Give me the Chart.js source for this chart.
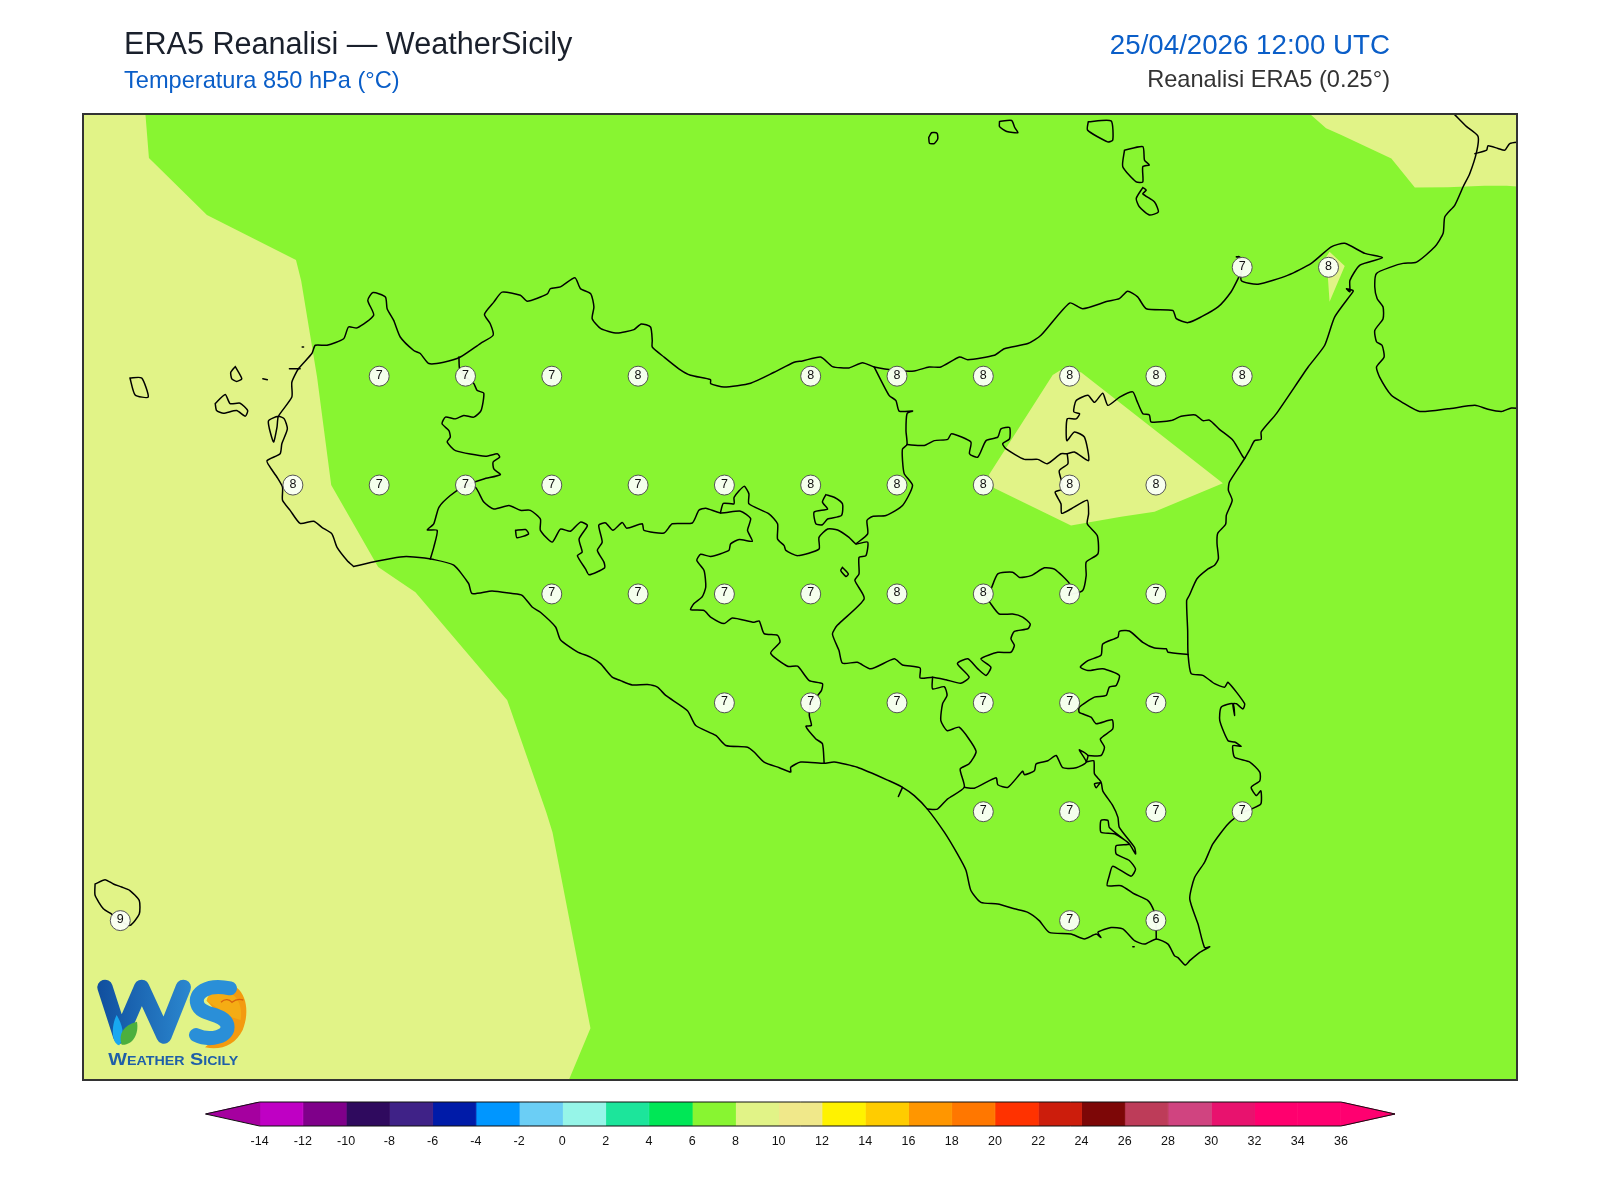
<!DOCTYPE html>
<html lang="it">
<head>
<meta charset="utf-8">
<title>ERA5 Reanalisi — WeatherSicily</title>
<script src="https://cdn.jsdelivr.net/npm/chart.js@4/dist/chart.umd.min.js"></script>
<style>
    html, body { margin: 0; padding: 0; background: #fff; }
    body { position: relative; width: 1600px; height: 1200px; overflow: hidden; font-family: "Liberation Sans", Arial, sans-serif; }
    canvas { position: absolute; left: 0; }
    .testo { position: absolute; white-space: nowrap; line-height: 1.149; }
    #titolo { left: 124px; top: 26px; font-size: 30.6px; color: #1a202c; }
    #sottotitolo { left: 124px; top: 67px; font-size: 23.6px; color: #0a5ec8; }
    #data { right: 210px; top: 29px; font-size: 27.7px; color: #0a5ec8; }
    #fonte { right: 210px; top: 66px; font-size: 23.6px; color: #333; }
    #logo { position: absolute; left: 90px; top: 970px; }
</style>
</head>
<body>
<canvas id="mappa" width="1600" height="1200" style="top:0"></canvas>
<canvas id="barra" width="1600" height="70" style="top:1090px"></canvas>
<div class="testo" id="titolo">ERA5 Reanalisi — WeatherSicily</div>
<div class="testo" id="sottotitolo">Temperatura 850 hPa (°C)</div>
<div class="testo" id="data">25/04/2026 12:00 UTC</div>
<div class="testo" id="fonte">Reanalisi ERA5 (0.25°)</div>
<svg id="logo" width="170" height="105" viewBox="0 0 510 315">
    <defs>
        <linearGradient id="gradW" gradientUnits="userSpaceOnUse" x1="30" y1="0" x2="300" y2="0">
            <stop offset="0" stop-color="#11509f"/>
            <stop offset="1" stop-color="#2b87cf"/>
        </linearGradient>
    </defs>
    <path d="M415,42 C468,50 482,125 458,180 C436,226 392,242 345,232 L420,170 L350,92 C362,62 400,62 415,42 Z" fill="#f39a10"/>
    <path d="M380,62 C430,55 460,95 452,150 L420,140 L350,92 C352,78 362,66 380,62 Z" fill="#f5ac14"/>
    <polyline points="45,52 92,198 155,52 222,198 280,52" fill="none" stroke="url(#gradW)" stroke-width="46" stroke-linejoin="round" stroke-linecap="round"/>
    <path d="M420,55 C350,40 312,70 322,102 C332,140 400,125 412,165 C420,200 360,215 318,195" fill="none" stroke="#2a8fd8" stroke-width="42" stroke-linecap="round"/>
    <path d="M80,135 C97,165 107,195 88,226 C65,222 62,170 80,135 Z" fill="#18a8f0"/>
    <path d="M141,155 C100,165 84,192 95,224 C130,226 147,190 141,155 Z" fill="#4caf3e"/>
    <path d="M393,97 C405,85 418,88 426,97 C436,88 448,86 460,90" fill="none" stroke="#d9620c" stroke-width="4"/>
    <text x="55" y="285" font-family="Liberation Sans" font-weight="bold" font-size="50" fill="#1f5fa8" style="font-variant:small-caps" textLength="390" lengthAdjust="spacingAndGlyphs">Weather Sicily</text>
</svg>
<script>
// griglia ERA5 0.25 gradi: valori
const gridLon = [15.25, 15.5,
    12.75, 13, 13.25, 13.5, 14, 14.25, 14.5, 14.75, 15, 15.25,
    12.5, 12.75, 13, 13.25, 13.5, 13.75, 14, 14.25, 14.5, 14.75, 15,
    13.25, 13.5, 13.75, 14, 14.25, 14.5, 14.75, 15,
    13.75, 14, 14.25, 14.5, 14.75, 15,
    14.5, 14.75, 15, 15.25,
    12, 14.75, 15];
const gridLat = [38.25, 38.25,
    38, 38, 38, 38, 38, 38, 38, 38, 38, 38,
    37.75, 37.75, 37.75, 37.75, 37.75, 37.75, 37.75, 37.75, 37.75, 37.75, 37.75,
    37.5, 37.5, 37.5, 37.5, 37.5, 37.5, 37.5, 37.5,
    37.25, 37.25, 37.25, 37.25, 37.25, 37.25,
    37, 37, 37, 37,
    36.75, 36.75, 36.75];
const gridTemp = [7, 8,
    7, 7, 7, 8, 8, 8, 8, 8, 8, 8,
    8, 7, 7, 7, 7, 7, 8, 8, 8, 8, 8,
    7, 7, 7, 7, 8, 8, 7, 7,
    7, 7, 7, 7, 7, 7,
    7, 7, 7, 7,
    9, 7, 6];

// aree 8-10 gradi
const bandWest = [[12.072,38.61],[12.083,38.501],[12.251,38.370],[12.509,38.267],[12.524,38.219],[12.570,37.998],[12.611,37.750],[12.747,37.562],[12.855,37.504],[13.121,37.256],[13.234,36.999],[13.252,36.953],[13.362,36.503],[13.292,36.37],[11.88,36.37],[11.88,38.61]];
const bandEtna = [[14.516,37.773],[14.701,38.003],[14.722,38.013],[14.783,38.009],[15.194,37.754],[14.996,37.689],[14.899,37.677],[14.754,37.657],[14.531,37.743]];
const bandCalabria = [[15.435,38.61],[15.493,38.569],[15.537,38.554],[15.682,38.500],[15.750,38.433],[15.846,38.434],[15.952,38.437],[16.016,38.437],[16.06,38.435],[16.06,38.61]];
const bandStrait = [[15.503,38.286],[15.547,38.253],[15.503,38.171],[15.498,38.229],[15.476,38.253]];

// costa della Sicilia
const coastSicily = [[12.676,37.563],[12.657,37.577],[12.628,37.607],[12.613,37.638],[12.584,37.653],[12.560,37.667],[12.521,37.662],[12.492,37.692],[12.470,37.715],[12.470,37.745],[12.454,37.768],[12.434,37.791],[12.425,37.806],[12.463,37.822],[12.468,37.845],[12.484,37.879],[12.475,37.902],[12.458,37.908],[12.429,37.897],[12.444,37.849],[12.454,37.883],[12.458,37.908],[12.497,37.952],[12.497,37.986],[12.516,38.017],[12.555,38.052],[12.565,38.071],[12.599,38.071],[12.647,38.086],[12.661,38.113],[12.686,38.111],[12.734,38.140],[12.717,38.174],[12.732,38.192],[12.768,38.182],[12.773,38.155],[12.792,38.128],[12.811,38.090],[12.850,38.059],[12.869,38.052],[12.894,38.029],[12.937,38.032],[12.985,38.044],[13.043,38.075],[13.080,38.094],[13.072,38.120],[13.055,38.142],[13.082,38.170],[13.106,38.193],[13.159,38.186],[13.179,38.172],[13.237,38.189],[13.246,38.201],[13.275,38.205],[13.317,38.226],[13.333,38.201],[13.363,38.189],[13.372,38.159],[13.367,38.132],[13.392,38.109],
    [13.439,38.099],[13.488,38.107],[13.509,38.120],[13.536,38.113],[13.541,38.082],[13.541,38.067],[13.575,38.044],[13.618,38.017],[13.652,38.002],[13.710,37.992],[13.710,37.983],[13.749,37.975],[13.826,37.984],[13.894,38.009],[13.952,38.032],[13.976,38.035],[14.029,38.044],[14.063,38.022],[14.111,38.019],[14.150,38.031],[14.184,38.021],[14.252,38.013],[14.300,38.012],[14.343,38.021],[14.377,38.021],[14.431,38.044],[14.455,38.038],[14.532,38.048],[14.561,38.063],[14.629,38.075],[14.667,38.094],[14.750,38.168],
    [14.788,38.155],[14.860,38.172],[14.894,38.178],[14.918,38.195],[14.947,38.182],[14.972,38.155],[15.049,38.151],[15.059,38.132],[15.093,38.123],[15.131,38.136],[15.180,38.159],[15.218,38.194],[15.238,38.224],[15.252,38.249],[15.242,38.274],[15.233,38.274],[15.252,38.270],[15.247,38.220],[15.296,38.211],[15.383,38.232],[15.450,38.259],[15.508,38.297],[15.547,38.305],[15.605,38.282],[15.656,38.272],[15.591,38.255],[15.562,38.220],[15.562,38.194],[15.552,38.201],[15.571,38.197],[15.571,38.194],[15.518,38.136],[15.489,38.071],[15.441,38.021],[15.349,37.914],
    [15.305,37.872],[15.305,37.855],[15.286,37.852],[15.271,37.830],[15.257,37.811],[15.213,37.757],[15.210,37.738],[15.221,37.715],[15.204,37.681],[15.202,37.660],[15.179,37.639],[15.177,37.616],[15.181,37.581],[15.170,37.566],[15.152,37.558],[15.119,37.535],[15.097,37.497],[15.089,37.485],[15.092,37.416],
    [15.093,37.363],[15.102,37.317],[15.136,37.313],[15.170,37.294],[15.199,37.286],[15.209,37.297],[15.257,37.248],[15.252,37.236],[15.233,37.248],[15.223,37.248],[15.228,37.221],[15.223,37.248],[15.189,37.240],[15.185,37.209],[15.209,37.163],[15.228,37.160],[15.247,37.150],[15.223,37.152],[15.228,37.125],[15.272,37.114],[15.301,37.091],[15.301,37.071],[15.276,37.056],[15.291,37.037],[15.304,37.048],[15.304,37.018],[15.276,37.006],[15.253,36.999],[15.209,36.972],[15.165,36.926],[15.141,36.884],[15.112,36.849],[15.098,36.800],[15.122,36.742],[15.141,36.688],[15.156,36.690],[15.127,36.677],[15.098,36.658],[15.085,36.648],[15.064,36.665],[15.054,36.669],[15.035,36.696],[15.001,36.708],[14.967,36.696],[14.938,36.704],[14.904,36.731],[14.870,36.734],[14.832,36.723],[14.841,36.711],[14.827,36.719],[14.793,36.708],[14.754,36.719],[14.691,36.723],[14.662,36.750],[14.629,36.769],[14.590,36.777],[14.542,36.788],[14.493,36.792],[14.464,36.819],[14.450,36.865],[14.425,36.903],[14.387,36.953],[14.338,37.006],[14.300,37.037],[14.266,37.056],[14.227,37.071],[14.135,37.102],[14.068,37.114],[14.039,37.111],[13.971,37.114],
    [13.942,37.102],[13.942,37.091],[13.909,37.101],[13.865,37.114],[13.836,37.137],[13.817,37.148],[13.754,37.152],[13.725,37.175],[13.667,37.198],[13.643,37.232],[13.580,37.267],[13.556,37.286],[13.527,37.292],[13.483,37.291],[13.449,37.301],[13.425,37.309],[13.391,37.340],[13.362,37.355],[13.324,37.367],[13.275,37.395],[13.261,37.424],[13.217,37.458],[13.193,37.470],[13.164,37.497],[13.135,37.501],[13.077,37.507],[13.019,37.501],[13.009,37.524],[12.966,37.566],[12.908,37.579],[12.850,37.585],[12.811,37.585],[12.742,37.575],[12.676,37.563]];

// confini provinciali
const borderTrapani = [[12.981,38.044],[12.983,38.017],[13.000,37.999],[13.024,37.983],[13.034,37.967],[13.053,37.961],[13.045,37.921],[13.024,37.906],[12.995,37.910],[12.971,37.902],[12.942,37.906],[12.932,37.891],[12.952,37.875],[12.956,37.860],[12.947,37.849],[12.971,37.829],[13.058,37.816],[13.092,37.822],[13.099,37.814],[13.080,37.803],[13.082,37.787],[13.101,37.774],[13.053,37.764],[13.000,37.749],[12.956,37.726],[12.923,37.699],[12.908,37.661],[12.889,37.647],[12.918,37.646],[12.908,37.607],[12.898,37.580]];
const borderAgrigento = [[13.000,37.749],[13.029,37.745],[13.053,37.711],[13.082,37.695],[13.126,37.703],[13.159,37.692],[13.188,37.692],[13.217,37.672],[13.217,37.646],[13.251,37.619],[13.275,37.649],[13.304,37.644],[13.333,37.665],[13.353,37.657],[13.329,37.626],[13.338,37.596],[13.324,37.588],[13.348,37.557],[13.358,37.544],[13.403,37.560],[13.401,37.573],[13.382,37.600],[13.396,37.619],[13.386,37.658],[13.406,37.663],[13.427,37.646],[13.454,37.664],[13.467,37.651],[13.512,37.661],[13.517,37.646],[13.575,37.640],[13.599,37.661],[13.657,37.663],[13.676,37.692],[13.696,37.697],[13.739,37.686],[13.797,37.690],[13.826,37.673],[13.817,37.646],[13.831,37.621],[13.793,37.625],[13.768,37.615],[13.763,37.600],[13.710,37.586],[13.681,37.591],[13.670,37.577],[13.691,37.554],[13.696,37.516],[13.686,37.494],[13.662,37.478],[13.652,37.464],[13.691,37.462],[13.710,37.447],[13.749,37.432],[13.773,37.445],[13.836,37.435],[13.851,37.438],[13.865,37.409],[13.904,37.405],[13.911,37.389],[13.884,37.364],[13.933,37.334],[13.962,37.334],[13.996,37.301],[14.034,37.294],[14.031,37.278],[14.020,37.267],[14.000,37.249],[13.996,37.221],[14.002,37.198],[13.986,37.196],[14.015,37.167],[14.034,37.156],[14.039,37.111]];
const borderEnna = [[13.739,37.686],[13.739,37.688],[13.747,37.708],[13.778,37.707],[13.778,37.722],[13.807,37.747],[13.821,37.730],[13.821,37.707],[13.879,37.684],[13.904,37.661],[13.904,37.626],[13.923,37.611],[13.928,37.600],[13.962,37.588],[14.024,37.603],[14.024,37.630],[14.049,37.649],[14.078,37.647],[14.111,37.630],[14.131,37.615],[14.165,37.619],[14.160,37.588],[14.140,37.584],[14.140,37.546],[14.128,37.531],[14.155,37.489],[14.077,37.428],[14.063,37.408],[14.082,37.370],[14.092,37.341],[14.135,37.343],[14.174,37.328],[14.242,37.351],[14.266,37.337],[14.317,37.330],[14.317,37.307],[14.353,37.309],[14.392,37.303],[14.435,37.295],[14.459,37.309],[14.425,37.340],[14.455,37.351],[14.484,37.328],[14.508,37.313],[14.522,37.332],[14.493,37.351],[14.542,37.366],[14.580,37.366],[14.590,37.382],[14.580,37.397],[14.590,37.414],[14.629,37.420],[14.636,37.431],[14.614,37.447],[14.585,37.454],[14.546,37.454],[14.522,37.477],[14.503,37.500]];
const borderCatania = [[14.503,37.500],[14.518,37.504],[14.542,37.546],[14.585,37.550],[14.605,37.538],[14.638,37.542],[14.677,37.560],[14.706,37.557],[14.750,37.523],[14.75,37.5],[14.788,37.508],[14.798,37.542],[14.798,37.573],[14.832,37.592],[14.830,37.634],[14.801,37.661],[14.805,37.684],[14.801,37.715],[14.754,37.695],[14.727,37.685],[14.725,37.707],[14.708,37.734],[14.730,37.741],[14.725,37.764],[14.720,37.783],[14.745,37.799],[14.743,37.822]];
const borderMadonie = [[14.131,37.615],[14.165,37.638],[14.163,37.669],[14.179,37.678],[14.218,37.680],[14.266,37.703],[14.295,37.749],[14.271,37.776],[14.266,37.806],[14.266,37.833],[14.279,37.843],[14.276,37.875],[14.279,37.914],[14.295,37.920],[14.256,37.920],[14.247,37.944],[14.227,37.956],[14.184,38.021]];
const borderMessina = [[14.279,37.843],[14.329,37.841],[14.358,37.852],[14.397,37.855],[14.408,37.868],[14.464,37.849],[14.460,37.822],[14.484,37.814],[14.508,37.852],[14.542,37.860],[14.551,37.879],[14.576,37.882],[14.576,37.856],[14.556,37.845],[14.566,37.833],[14.619,37.809],[14.658,37.809],[14.685,37.799],[14.725,37.822],[14.743,37.822],[14.764,37.826],[14.805,37.806],[14.793,37.860],[14.764,37.872],[14.742,37.852],[14.743,37.902],[14.769,37.902],[14.779,37.914],[14.762,37.918],[14.769,37.944],[14.803,37.956],[14.822,37.940],[14.846,37.961],[14.861,37.933],[14.895,37.952],[14.933,37.964],[14.944,37.945],[14.962,37.914],[14.981,37.911],[14.986,37.895],[15.044,37.898],[15.073,37.908],[15.114,37.911],[15.136,37.898],[15.155,37.899],[15.184,37.878],[15.223,37.853],[15.252,37.815],[15.257,37.811]];
const borderCaltanissetta = [[14.353,37.309],[14.353,37.282],[14.387,37.287],[14.395,37.267],[14.382,37.248],[14.377,37.209],[14.396,37.186],[14.430,37.194],[14.479,37.139],[14.459,37.110],[14.433,37.098],[14.445,37.056],[14.396,37.029],[14.367,37.006],[14.338,37.006]];
const borderRagusa = [[14.445,37.056],[14.474,37.054],[14.537,37.078],[14.542,37.062],[14.571,37.056],[14.614,37.093],[14.619,37.085],[14.648,37.094],[14.653,37.110],[14.687,37.117],[14.711,37.129],[14.730,37.101],[14.769,37.101],[14.798,37.114],[14.778,37.142],[14.803,37.129],[14.798,37.114]];
const borderSiracusa = [[14.803,37.129],[14.841,37.129],[14.851,37.148],[14.839,37.167],[14.875,37.190],[14.873,37.211],[14.827,37.202],[14.812,37.217],[14.778,37.228],[14.778,37.240],[14.822,37.263],[14.856,37.267],[14.865,37.286],[14.885,37.290],[14.894,37.313],[14.846,37.328],[14.803,37.324],[14.781,37.332],[14.803,37.347],[14.841,37.359],[14.846,37.385],[14.890,37.401],[14.894,37.414],[14.923,37.415],[14.962,37.389],[14.996,37.376],[15.030,37.374],[15.035,37.366],[15.093,37.361]];
const borderIblei = [[14.798,37.114],[14.820,37.117],[14.822,37.087],[14.841,37.068],[14.822,37.064],[14.827,37.055],[14.841,37.068],[14.846,37.048],[14.875,37.014],[14.890,36.987],[14.894,36.964],[14.938,36.918],[14.941,36.903],[14.923,36.926],[14.865,36.964],[14.861,36.980],[14.841,36.980],[14.841,36.953],[14.880,36.949],[14.923,36.926],[14.885,36.922],[14.885,36.903],[14.923,36.888],[14.941,36.868],[14.928,36.852],[14.875,36.875],[14.865,36.853],[14.859,36.830],[14.899,36.830],[14.938,36.811],[14.977,36.796],[14.994,36.773],[15.0,36.75],[15.001,36.708]];
const tickGela = [[14.266,37.056],[14.254,37.035]];
const enclaveNebrodi = [[14.044,37.728],[14.068,37.722],[14.092,37.707],[14.089,37.680],[14.049,37.672],[14.034,37.659],[14.015,37.661],[14.010,37.688],[14.049,37.695],[14.034,37.711],[14.044,37.728]];
const lakeArancio = [[13.145,37.646],[13.174,37.648],[13.183,37.638],[13.149,37.629],[13.145,37.646]];
const lakePozzillo = [[14.092,37.561],[14.109,37.546],[14.102,37.540],[14.087,37.554],[14.092,37.561]];

// isole
const favignana = [[12.275,37.937],[12.304,37.958],[12.318,37.937],[12.347,37.938],[12.369,37.921],[12.362,37.908],[12.337,37.921],[12.299,37.915],[12.279,37.921],[12.275,37.937]];
const levanzo = [[12.333,38.022],[12.352,37.994],[12.337,37.988],[12.323,37.994],[12.320,38.009],[12.333,38.022]];
const marettimo = [[12.028,37.996],[12.062,37.996],[12.081,37.952],[12.043,37.957],[12.028,37.996]];
const scogli = [[12.413,37.994],[12.426,37.992]];
const scoglioNord = [[12.527,38.067],[12.531,38.067]];
const scoglioSud = [[14.933,36.690],[14.937,36.690]];
const trapani = [[12.490,38.017],[12.521,38.017]];
const pantelleria = [[11.927,36.834],[11.956,36.844],[11.980,36.834],[12.004,36.827],[12.028,36.819],[12.055,36.796],[12.055,36.765],[12.028,36.739],[11.999,36.750],[11.975,36.765],[11.951,36.777],[11.927,36.808],[11.927,36.834]];
const salina = [[14.804,38.584],[14.870,38.586],[14.875,38.542],[14.860,38.538],[14.802,38.565],[14.804,38.584]];
const lipari = [[14.909,38.519],[14.962,38.527],[14.967,38.496],[14.981,38.485],[14.962,38.481],[14.962,38.446],[14.943,38.446],[14.904,38.481],[14.909,38.519]];
const vulcano = [[14.962,38.433],[14.972,38.427],[14.962,38.419],[14.996,38.400],[15.007,38.377],[14.981,38.370],[14.952,38.389],[14.943,38.408],[14.962,38.433]];
const filicudi = [[14.547,38.585],[14.582,38.587],[14.591,38.571],[14.600,38.559],[14.568,38.562],[14.547,38.573],[14.547,38.585]];
const alicudi = [[14.342,38.548],[14.350,38.559],[14.366,38.558],[14.368,38.545],[14.358,38.534],[14.344,38.535],[14.342,38.548]];

// Calabria
const coastCalabria = [[15.866,38.600],[15.900,38.573],[15.933,38.551],[15.929,38.515],[15.909,38.465],[15.890,38.435],[15.866,38.393],[15.837,38.366],[15.832,38.328],[15.808,38.297],[15.755,38.262],[15.716,38.259],[15.682,38.251],[15.639,38.236],[15.634,38.205],[15.641,38.178],[15.658,38.159],[15.658,38.132],[15.634,38.105],[15.639,38.079],[15.655,38.071],[15.661,38.044],[15.639,38.021],[15.648,37.998],[15.682,37.956],[15.711,37.941],[15.764,37.919],[15.846,37.925],[15.924,37.933],[15.962,37.924],[16.001,37.919],[16.030,37.927],[16.06,37.925]];
const borderCalabria = [[15.924,38.511],[15.958,38.519],[15.962,38.529],[15.991,38.523],[16.011,38.519],[16.025,38.534],[16.06,38.538]];

// scala colori
const colorTicks = [-14, -12, -10, -8, -6, -4, -2, 0, 2, 4, 6, 8, 10, 12, 14, 16, 18, 20, 22, 24, 26, 28, 30, 32, 34, 36];
const colorBands = ['#bf00c4', '#7f008a', '#2f0a5e', '#3f2287', '#001ba8', '#0096ff', '#6bcef5', '#96f5e8', '#1ce59b', '#00e756', '#88f531', '#e1f387', '#f0e88a', '#fff200', '#ffcc00', '#ff9600', '#ff7700', '#ff3200', '#cc1d0c', '#7d0707', '#bd3c59', '#d04480', '#e8126e', '#ff006e', '#ff0070'];
const colorUnder = '#a5009f';
const colorOver = '#ff0070';

document.addEventListener('DOMContentLoaded', () => {
    const xy = lista => lista.map(([x, y]) => ({ x, y }));

    const area = (lista, colore, ordine) => ({
        data: xy(lista), showLine: true, fill: 'shape', backgroundColor: colore,
        borderColor: colore, borderWidth: 0, pointRadius: 0, tension: 0, order: ordine
    });

    const linea = lista => ({
        data: xy(lista), showLine: true, fill: false, borderColor: '#000', borderWidth: 1.5,
        borderJoinStyle: 'round', borderCapStyle: 'round', pointRadius: 0, tension: 0.2, order: 2
    });

    const tracciati = [coastSicily, borderTrapani, borderAgrigento, borderEnna, borderCatania, borderMadonie,
        borderMessina, borderCaltanissetta, borderRagusa, borderSiracusa, borderIblei, tickGela, enclaveNebrodi,
        lakeArancio, lakePozzillo, favignana, levanzo, marettimo, scogli, scoglioNord, scoglioSud, trapani,
        pantelleria, salina, lipari, vulcano, filicudi, alicudi, coastCalabria, borderCalabria];

    const sfondoMappa = {
        id: 'sfondoMappa',
        beforeDatasetsDraw(chart) {
            const { ctx, chartArea: a } = chart;
            ctx.save();
            ctx.fillStyle = '#88f531';
            ctx.fillRect(a.left, a.top, a.width, a.height);
            ctx.restore();
        },
        afterDraw(chart) {
            const { ctx, chartArea: a } = chart;
            ctx.save();
            ctx.strokeStyle = '#333';
            ctx.lineWidth = 2;
            ctx.strokeRect(a.left, a.top, a.width, a.height);
            ctx.restore();
        }
    };

    const etichette = {
        id: 'etichette',
        afterDatasetsDraw(chart) {
            const { ctx, scales } = chart;
            ctx.save();
            ctx.font = '12.5px "Liberation Sans"';
            ctx.fillStyle = '#111';
            ctx.textAlign = 'center';
            ctx.textBaseline = 'middle';
            gridTemp.forEach((valore, i) => {
                ctx.fillText(String(valore), scales.x.getPixelForValue(gridLon[i]), scales.y.getPixelForValue(gridLat[i]) - 1);
            });
            ctx.restore();
        }
    };

    new Chart(document.getElementById('mappa'), {
        type: 'scatter',
        data: {
            datasets: [
                {
                    data: gridLon.map((x, i) => ({ x, y: gridLat[i] })), pointRadius: 10, borderWidth: 1,
                    pointBackgroundColor: 'rgba(250,255,245,0.96)', pointBorderColor: '#555', order: 1
                },
                ...tracciati.map(linea),
                area(bandWest, '#e1f387', 3),
                area(bandEtna, '#e1f387', 3),
                area(bandCalabria, '#e1f387', 3),
                area(bandStrait, '#e1f387', 3)
            ]
        },
        options: {
            responsive: false,
            animation: false,
            events: [],
            layout: { padding: { left: 83, right: 83, top: 114, bottom: 120 } },
            plugins: { legend: { display: false }, tooltip: { enabled: false } },
            scales: {
                x: { type: 'linear', min: 11.892, max: 16.046, display: false },
                y: { type: 'linear', min: 36.384, max: 38.602, display: false }
            }
        },
        plugins: [sfondoMappa, etichette]
    });

    // barra colori
    const primo = colorTicks[0];
    const ultimo = colorTicks[colorTicks.length - 1];
    const punta = 2.5;
    const celle = colorBands.map((colore, i) => ({
        data: xy([[colorTicks[i], 0], [colorTicks[i + 1], 0], [colorTicks[i + 1], 1], [colorTicks[i], 1]]),
        showLine: true, fill: 'shape', backgroundColor: colore, borderColor: colore, borderWidth: 1,
        pointRadius: 0, tension: 0, order: 2
    }));
    const puntaSx = {
        data: xy([[primo - punta, 0.5], [primo, 1], [primo, 0]]), showLine: true, fill: 'shape',
        backgroundColor: colorUnder, borderColor: colorUnder, borderWidth: 1, pointRadius: 0, order: 2
    };
    const puntaDx = {
        data: xy([[ultimo, 1], [ultimo + punta, 0.5], [ultimo, 0]]), showLine: true, fill: 'shape',
        backgroundColor: colorOver, borderColor: colorOver, borderWidth: 1, pointRadius: 0, order: 2
    };
    const contorno = {
        data: xy([[primo - punta, 0.5], [primo, 1], [ultimo, 1], [ultimo + punta, 0.5], [ultimo, 0], [primo, 0], [primo - punta, 0.5]]),
        showLine: true, fill: false, borderColor: '#111', borderWidth: 1, pointRadius: 0, tension: 0, order: 1, clip: false
    };

    new Chart(document.getElementById('barra'), {
        type: 'scatter',
        data: { datasets: [contorno, puntaSx, puntaDx, ...celle] },
        options: {
            responsive: false,
            animation: false,
            events: [],
            layout: { padding: { left: 205.5, right: 205, top: 12, bottom: 11 } },
            plugins: { legend: { display: false }, tooltip: { enabled: false } },
            scales: {
                x: {
                    type: 'linear',
                    min: primo - punta,
                    max: ultimo + punta,
                    afterBuildTicks: asse => { asse.ticks = colorTicks.map(value => ({ value })); },
                    grid: { display: false },
                    border: { display: false },
                    ticks: { autoSkip: false, maxRotation: 0, padding: 0, color: '#111', font: { family: 'Liberation Sans', size: 12.5 }, callback: v => String(v) }
                },
                y: { type: 'linear', min: 0, max: 1, display: false }
            }
        }
    });
});
</script>
</body>
</html>
